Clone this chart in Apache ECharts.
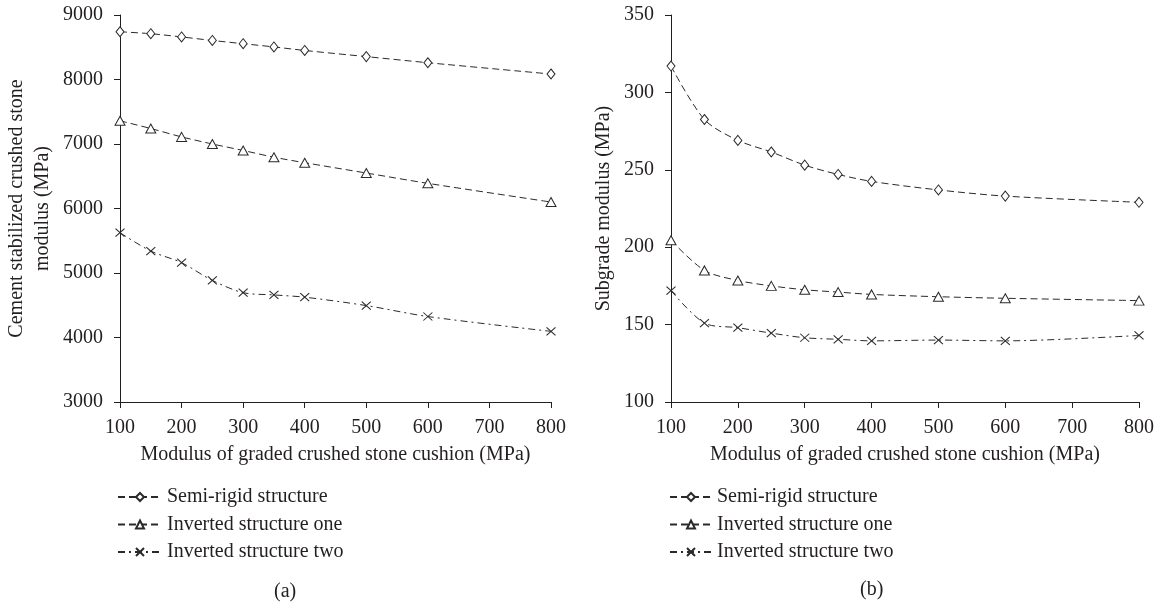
<!DOCTYPE html>
<html>
<head>
<meta charset="utf-8">
<script src="https://cdn.jsdelivr.net/npm/echarts@6/dist/echarts.min.js"></script>
<style>
html,body{margin:0;padding:0;background:#fff;}
#c{width:1157px;height:605px;}
</style>
</head>
<body>
<div id="c"></div>
<script>
var xValues = [100, 150, 200, 250, 300, 350, 400, 500, 600, 800];
var seriesNames = ['Semi-rigid structure', 'Inverted structure one', 'Inverted structure two'];
var leftSemi = [8740, 8710, 8660, 8605, 8555, 8505, 8450, 8355, 8260, 8085];
var leftInv1 = [7360, 7240, 7110, 7000, 6900, 6795, 6710, 6550, 6390, 6100];
var leftInv2 = [5625, 5340, 5160, 4885, 4695, 4660, 4625, 4495, 4325, 4095];
var rightSemi = [317, 282.5, 269, 261.5, 253, 247, 242.5, 237, 233, 229];
var rightInv1 = [204.5, 185, 178.5, 175, 172.5, 171, 169.5, 168, 167, 165.5];
var rightInv2 = [172, 151, 148, 144.5, 141.5, 140.5, 139.5, 140, 139.5, 143];
var xTicks = [100, 200, 300, 400, 500, 600, 700, 800];
var leftYTicks = [3000, 4000, 5000, 6000, 7000, 8000, 9000];
var rightYTicks = [100, 150, 200, 250, 300, 350];
var xTitle = 'Modulus of graded crushed stone cushion (MPa)';
var leftYTitle = 'Cement stabilized crushed stone\nmodulus (MPa)';
var rightYTitle = 'Subgrade modulus (MPa)';
var panelLabels = ['(a)', '(b)'];

var FONT = '"Liberation Serif", "Times New Roman", serif';
var TXT = '#231f20';
var LINE = '#2a2a2a';
var FS = 20;

function pairs(ys) { return xValues.map(function (x, i) { return [x, ys[i]]; }); }

var crossPath = 'path://M0,0L10,10M0,10L10,0';
var styles = [
  { symbol: 'diamond', size: [8, 10], type: [7, 4] },
  { symbol: 'triangle', size: [10, 9], type: [7, 4] },
  { symbol: crossPath, size: [9, 8], type: [7, 4, 2, 4] }
];

function mkSeries(name, idx, data, axisIdx) {
  var s = styles[idx];
  return {
    name: name,
    type: 'line',
    xAxisIndex: axisIdx,
    yAxisIndex: axisIdx,
    data: pairs(data),
    smooth: 0.3,
    symbol: s.symbol,
    symbolSize: s.size,
    lineStyle: { color: LINE, width: 1, type: s.type },
    itemStyle: { color: idx === 2 ? 'rgba(0,0,0,0)' : '#fff', borderColor: LINE, borderWidth: 1 },
    emphasis: { disabled: true },
    animation: false
  };
}

function plain(v) { return String(v); }

function xAxis(gi) {
  return {
    type: 'value', gridIndex: gi, min: 100, max: 800, interval: 100,
    axisLine: { show: true, lineStyle: { color: TXT, width: 1 } },
    axisTick: { show: true, inside: false, length: 6, lineStyle: { color: TXT } },
    axisLabel: { color: TXT, fontFamily: FONT, fontSize: FS, margin: 16, formatter: plain },
    splitLine: { show: false },
    name: xTitle, nameLocation: 'middle', nameGap: 43,
    nameTextStyle: { color: TXT, fontFamily: FONT, fontSize: FS }
  };
}
function yAxis(gi, min, max, interval, title, gap) {
  return {
    type: 'value', gridIndex: gi, min: min, max: max, interval: interval,
    axisLine: { show: true, lineStyle: { color: TXT, width: 1 } },
    axisTick: { show: true, inside: false, length: 6, lineStyle: { color: TXT } },
    axisLabel: { color: TXT, fontFamily: FONT, fontSize: FS, margin: 17, formatter: plain },
    splitLine: { show: false },
    name: title, nameLocation: 'middle', nameGap: gap,
    nameTextStyle: { color: TXT, fontFamily: FONT, fontSize: FS, lineHeight: 26 }
  };
}

function legend(left, w) {
  return {
    orient: 'vertical', left: left, top: 482,
    itemWidth: w, itemHeight: 10, itemGap: 7.5,
    data: seriesNames,
    textStyle: { color: TXT, fontFamily: FONT, fontSize: FS },
    selectedMode: false
  };
}

var chart = echarts.init(document.getElementById('c'), null, { renderer: 'canvas' });
chart.setOption({
  animation: false,
  backgroundColor: '#fff',
  grid: [
    { left: 120, right: 606, top: 15, bottom: 203 },
    { left: 671, right: 18, top: 15, bottom: 203 }
  ],
  xAxis: [xAxis(0), xAxis(1)],
  yAxis: [
    yAxis(0, 3000, 9000, 1000, leftYTitle, 64),
    yAxis(1, 100, 350, 50, rightYTitle, 54)
  ],
  legend: [legend(112, 44), legend(664, 42)],
  series: [
    mkSeries(seriesNames[0], 0, leftSemi, 0),
    mkSeries(seriesNames[1], 1, leftInv1, 0),
    mkSeries(seriesNames[2], 2, leftInv2, 0),
    mkSeries(seriesNames[0], 0, rightSemi, 1),
    mkSeries(seriesNames[1], 1, rightInv1, 1),
    mkSeries(seriesNames[2], 2, rightInv2, 1)
  ],
  graphic: [
    { type: 'text', left: 274, top: 582, style: { text: panelLabels[0], fill: TXT, font: FS + 'px ' + FONT } },
    { type: 'text', left: 860, top: 580, style: { text: panelLabels[1], fill: TXT, font: FS + 'px ' + FONT } }
  ]
});
</script>
</body>
</html>
